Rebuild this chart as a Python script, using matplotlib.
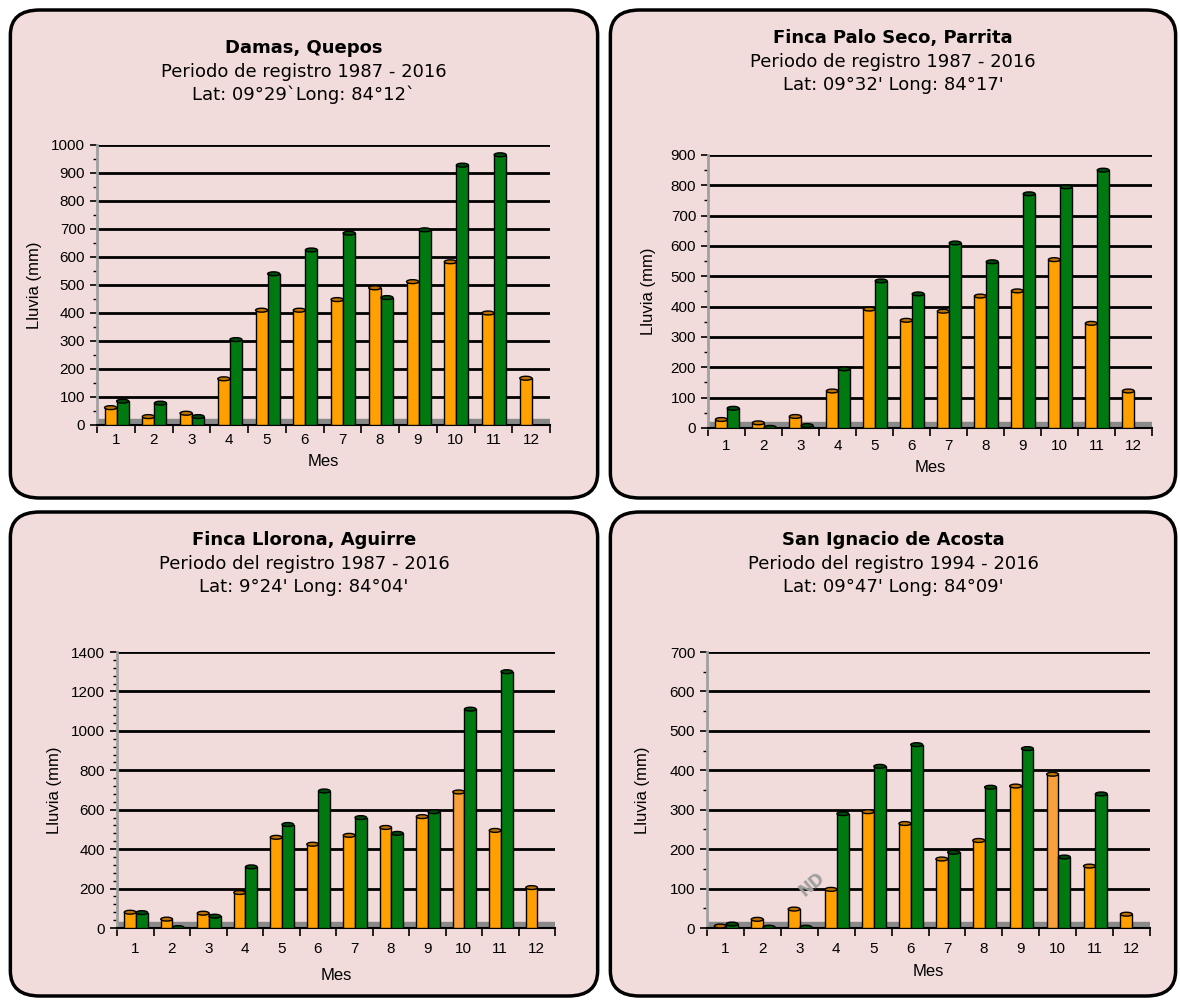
import matplotlib.pyplot as plt
from matplotlib.patches import FancyBboxPatch, Ellipse
from matplotlib.ticker import MultipleLocator, AutoMinorLocator, FixedLocator
import numpy as np

meses = list(range(1, 13))

# Damas, Quepos
damas_nar = [62, 30, 42, 165, 410, 410, 448, 490, 512, 583, 400, 167]
damas_ver = [85, 78, 30, 305, 540, 625, 685, 455, 697, 928, 965, None]
# Finca Palo Seco, Parrita
palo_nar = [28, 17, 38, 122, 392, 355, 385, 435, 452, 555, 345, 122]
palo_ver = [65, 2, 8, 195, 485, 442, 610, 548, 772, 795, 850, None]
# Finca Llorona, Aguirre
llor_nar = [80, 45, 75, 180, 460, 425, 470, 510, 565, 690, 495, 205]
llor_ver = [78, 2, 60, 310, 525, 695, 560, 480, 590, 1110, 1300, None]
# San Ignacio de Acosta
sani_nar = [5, 22, 48, 98, 295, 265, 175, 222, 360, 390, 157, 35]
sani_ver = [10, 2, 2, 290, 410, 465, 192, 357, 455, 180, 340, None]

paneles = [
    dict(titulo='Damas, Quepos', sub1='Periodo de registro 1987 - 2016',
         sub2='Lat: 09°29`Long: 84°12`', nar=damas_nar, ver=damas_ver,
         ymax=1000, paso=100, caja=(8, 8, 600, 500), ejes=(97, 145, 550, 425),
         ttl_y=48, ylab_x=35, mes_y=462, tick_pad=6),
    dict(titulo='Finca Palo Seco, Parrita', sub1='Periodo de registro 1987 - 2016',
         sub2="Lat: 09°32' Long: 84°17'", nar=palo_nar, ver=palo_ver,
         ymax=900, paso=100, caja=(608, 8, 1178, 500), ejes=(708, 155, 1152, 428),
         ttl_y=38, ylab_x=648, mes_y=467, tick_pad=8),
    dict(titulo='Finca Llorona, Aguirre', sub1='Periodo del registro 1987 - 2016',
         sub2="Lat: 9°24' Long: 84°04'", nar=llor_nar, ver=llor_ver,
         ymax=1400, paso=200, caja=(8, 510, 600, 998), ejes=(117, 652, 555, 928),
         ttl_y=540, ylab_x=55, mes_y=975, tick_pad=10),
    dict(titulo='San Ignacio de Acosta', sub1='Periodo del registro 1994 - 2016',
         sub2="Lat: 09°47' Long: 84°09'", nar=sani_nar, ver=sani_ver,
         ymax=700, paso=100, caja=(608, 510, 1178, 998), ejes=(707, 652, 1150, 928),
         ttl_y=540, ylab_x=643, mes_y=972, tick_pad=10),
]

W, H = 1180, 1000
fig = plt.figure(figsize=(W / 100, H / 100), dpi=100)
fig.patch.set_facecolor('white')

rosa = '#F2DCDB'
naranja = '#FFA000'
verde = '#007A10'

def fx(px):
    return px / W

def fy(py):
    return 1 - py / H

for p in paneles:
    x0, y0, x1, y1 = p['caja']
    fig.patches.append(FancyBboxPatch((fx(x0) + 0.002, fy(y1) + 0.002),
                                      fx(x1 - x0) - 0.004, (y1 - y0) / H - 0.004,
                                      boxstyle='round,pad=0,rounding_size=0.025',
                                      transform=fig.transFigure, facecolor=rosa,
                                      edgecolor='black', linewidth=2.5, zorder=-1))
    cx = fx((x0 + x1) / 2)
    fig.text(cx, fy(p['ttl_y']), p['titulo'], ha='center', va='center',
             fontsize=13, fontweight='bold', family='DejaVu Sans')
    fig.text(cx, fy(p['ttl_y'] + 24), p['sub1'], ha='center', va='center',
             fontsize=13, family='DejaVu Sans')
    fig.text(cx, fy(p['ttl_y'] + 47), p['sub2'], ha='center', va='center',
             fontsize=13, family='DejaVu Sans')

    ax0, ay0, ax1, ay1 = p['ejes']
    ax = fig.add_axes([fx(ax0), fy(ay1), fx(ax1 - ax0), (ay1 - ay0) / H])
    ax.set_facecolor('none')
    ymax = p['ymax']
    ax.set_ylim(0, ymax)
    ax.set_xlim(0.5, 12.5)

    # back wall / floor
    ax.axhspan(0, ymax * 0.022, color='#8A8A8A', zorder=1)
    for v in np.arange(p['paso'], ymax + 1, p['paso']):
        ax.axhline(v, color='black', lw=2, zorder=1)

    x = np.array(meses, dtype=float)
    w = 0.32
    nar = np.array(p['nar'], dtype=float)
    ver = np.array([np.nan if v is None else v for v in p['ver']], dtype=float)
    b1 = ax.bar(x - w / 2 + 0.02, nar, width=w, color=naranja, edgecolor='black',
                linewidth=1, zorder=3)
    b2 = ax.bar(x + w / 2 + 0.02, np.nan_to_num(ver), width=w, color=verde,
                edgecolor='black', linewidth=1, zorder=3)
    if p['ymax'] in (1400, 700):
        b1[9].set_facecolor('#F7A03C')
    # cylinder caps
    for xi, v in zip(x - w / 2 + 0.02, nar):
        ax.add_patch(Ellipse((xi, v), w, ymax * 0.014, facecolor='#C07000',
                             edgecolor='black', lw=1, zorder=4))
    for xi, v in zip(x + w / 2 + 0.02, ver):
        if not np.isnan(v):
            ax.add_patch(Ellipse((xi, v), w, ymax * 0.014, facecolor='#004A08',
                                 edgecolor='black', lw=1, zorder=4))

    for s in ['top', 'right']:
        ax.spines[s].set_visible(False)
    ax.spines['left'].set_color('#A0A0A0')
    ax.spines['left'].set_linewidth(2)
    ax.spines['bottom'].set_linewidth(1.5)

    ax.yaxis.set_major_locator(MultipleLocator(p['paso']))
    ax.yaxis.set_minor_locator(AutoMinorLocator(2 if p['paso'] == 100 else 5))
    ax.tick_params(axis='y', which='major', length=5, width=1.2, labelsize=11)
    ax.tick_params(axis='y', which='minor', length=3, width=1)
    ax.set_xticks(np.arange(0.5, 13, 1))
    ax.set_xticklabels([])
    ax.xaxis.set_minor_locator(FixedLocator(meses))
    ax.set_xticklabels([str(m) for m in meses], minor=True)
    ax.tick_params(axis='x', which='major', length=6, width=1.2, direction='out')
    ax.tick_params(axis='x', which='minor', length=0, labelsize=11, pad=p['tick_pad'])
    for lab in ax.get_xticklabels(minor=True) + ax.get_yticklabels():
        lab.set_family('Liberation Sans')

    fig.text(fx(p['ylab_x']), fy((ay0 + ay1) / 2), 'Lluvia (mm)', rotation=90,
             ha='center', va='center', fontsize=12, family='Liberation Sans')
    fig.text(fx((ax0 + ax1) / 2), fy(p['mes_y']), 'Mes', ha='center', va='center',
             fontsize=12, family='Liberation Sans')

    if p['ymax'] == 700:
        ax.text(3.35, 110, 'ND', rotation=40, ha='center', va='center',
                fontsize=12, color='#A0A0A0', fontweight='bold', zorder=5)

fig.savefig('out.png', dpi=100)
